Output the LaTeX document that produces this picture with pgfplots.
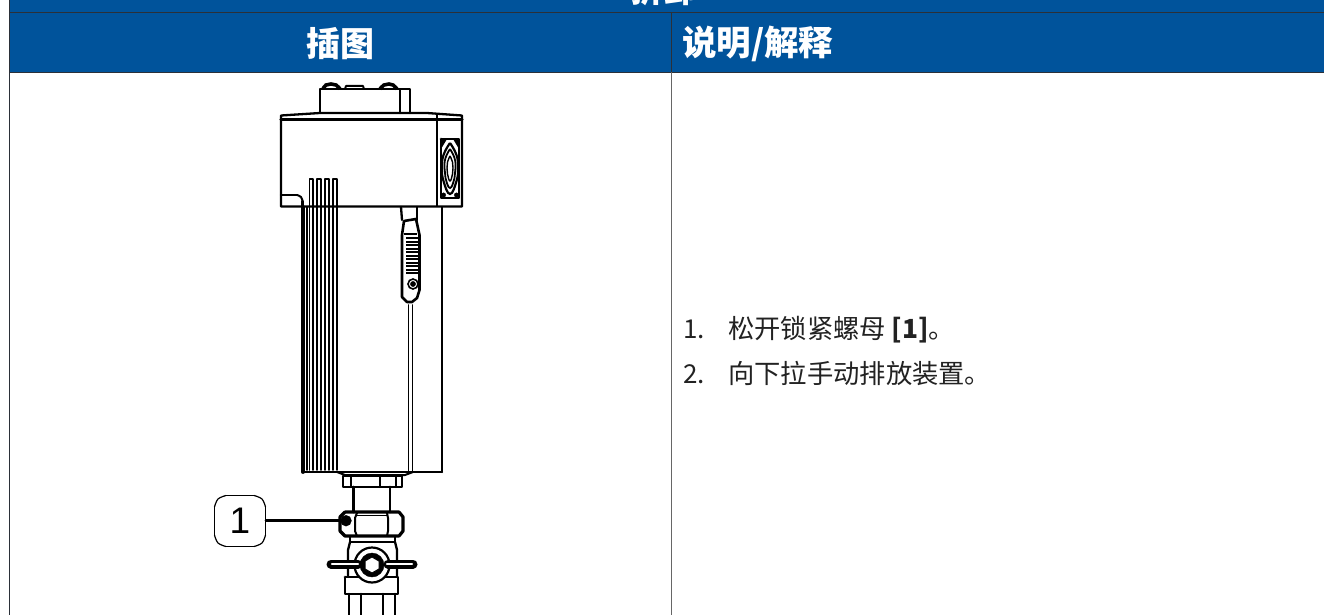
\documentclass[border=0pt]{standalone}
\usepackage{pgfplots}
\pgfplotsset{compat=1.18}
\usepackage{fontspec}
\setmainfont{Noto Sans CJK SC}
\setsansfont{Liberation Sans}
\definecolor{hdr}{HTML}{00539B}
\definecolor{rule}{HTML}{2B3038}
\definecolor{txt}{HTML}{222222}
\newcommand\Ln[2][2.3pt]{\addplot[black,line width=#1,no marks,line join=round,line cap=round] coordinates {#2};}
\newcommand\Sm[2][2pt]{\addplot[black,line width=#1,no marks,smooth,tension=0.8] coordinates {#2};}
\begin{document}
\begin{tikzpicture}
\begin{axis}[
  scale only axis,width=1324pt,height=615pt,
  xmin=0,xmax=1324,ymin=0,ymax=615,y dir=reverse,
  axis lines=none,clip=true,clip marker paths=true,
  clip mode=global]
% page and header
\addplot[fill=white,draw=none,no marks] coordinates {(0,0)(1324,0)(1324,615)(0,615)} --cycle;
\addplot[fill=hdr,draw=none,no marks] coordinates {(9,0)(1324,0)(1324,72)(9,72)} --cycle;
\addplot[rule,line width=1.5pt,no marks] coordinates {(9,12.3)(1324,12.3)};
\addplot[rule,line width=1.5pt,no marks] coordinates {(9,72.3)(1324,72.3)};
\addplot[rule,line width=1.5pt,no marks] coordinates {(9.3,0)(9.3,615)};
\addplot[rule,line width=1.5pt,no marks] coordinates {(671.3,12)(671.3,72)};
\addplot[gray!80!black,line width=1.3pt,no marks] coordinates {(671.3,72)(671.3,615)};
% head
\Ln{(320,113)(281,115.5)(281,206.5)(462,206.5)(462,115.5)(427,113)(320,113)}
\Ln[3.2pt]{(281,119.5)(462,119.5)}
\Ln{(320,113)(320,89)(400,89)(400,113)}
\Ln{(400,89)(410,89)(410,113)}
\Ln{(437,115)(437,206)}
\Sm[3.6pt]{(323,89)(326,85)(331,84)(336,85)(340,89)}
\Ln[2pt]{(345,89)(346,86)(363,86)(364,89)}
\Sm[3.6pt]{(380,89)(384,85)(389,84)(393,85)(397,89)}
% fan
\Ln[2.8pt]{(441,139)(459,139)(459,198)(441,198)(441,139)}
\addplot[fill=black,draw=none,no marks] coordinates {(441,139)(447,139)(441,149)} --cycle;
\addplot[fill=black,draw=none,no marks] coordinates {(459,139)(453,139)(459,149)} --cycle;
\Sm[2.2pt]{(450,143)(456.5,155)(458,168)(456.5,181)(450,194)(443.5,181)(442,168)(443.5,155)(450,143)}
\Sm[1.8pt]{(450,149)(454.5,158)(455.5,168)(454.5,178)(450,188)(445.5,178)(444.5,168)(445.5,158)(450,149)}
\Sm[1.4pt]{(450,156)(452.5,162)(453,168)(452.5,174)(450,181)(447.5,174)(447,168)(447.5,162)(450,156)}
\addplot[black,only marks,mark=*,mark size=2.2pt] coordinates {(443.5,195)(456.5,195)};
% notch and fins
\Ln{(281,195)(297,195)}
\Sm{(297,195)(301,197)(302.5,201)}
\Ln{(302.5,201)(302.5,206)}
\Ln[1.8pt]{(309.5,206)(309.5,179)(313.3,179)(313.3,206)}
\Ln[1.8pt]{(317.3,206)(317.3,179)(321.3,179)(321.3,206)}
\Ln[1.8pt]{(325.3,206)(325.3,179)(329.3,179)(329.3,206)}
\Ln[1.8pt]{(333.3,206)(333.3,179)(337.3,179)(337.3,206)}
% body
\Ln[3.8pt]{(303,207)(303,472)}
\Ln[2pt]{(303,472)(442,472)}
\Ln{(442,207)(442,472)}
\Ln[1.7pt]{(307,207)(307,470)}
\Ln[1.7pt]{(309.5,207)(309.5,470)}
\Ln[1.7pt]{(313.3,207)(313.3,470)}
\Ln[1.7pt]{(317.3,207)(317.3,470)}
\Ln[1.7pt]{(321.3,207)(321.3,470)}
\Ln[1.7pt]{(325.3,207)(325.3,470)}
\Ln[1.7pt]{(329.3,207)(329.3,470)}
\Ln[1.7pt]{(333.3,207)(333.3,470)}
\Ln[1.7pt]{(337.3,207)(337.3,470)}
\Ln[1.6pt]{(408.5,305)(408.5,472)}
\Ln[1.6pt]{(412.5,305)(412.5,472)}
\Ln[2pt]{(337,472)(345,475)(405,475)(413,472)}
% latch
\Ln{(401,207)(402,220)}
\Ln{(417,207)(417,220)}
\Ln[2.6pt]{(404,221)(416,219)(419.5,235)(419.5,290)(417,298)(412,302)(407,302)(402,297)(402,235)(404,221)}
\addplot[black,line width=1.6pt,no marks] coordinates {(404,234)(417,234)};
\addplot[black,line width=2.4pt,no marks] coordinates {(406,238)(419,238)};
\addplot[black,line width=2pt,no marks] coordinates {(406,241.5)(419,241.5)};
\addplot[black,line width=2pt,no marks] coordinates {(406,245)(419,245)};
\addplot[black,line width=2pt,no marks] coordinates {(406,248.5)(419,248.5)};
\addplot[black,line width=2pt,no marks] coordinates {(406,252)(419,252)};
\addplot[black,line width=2pt,no marks] coordinates {(406,255.5)(419,255.5)};
\addplot[black,line width=2pt,no marks] coordinates {(406,259)(419,259)};
\addplot[black,line width=2pt,no marks] coordinates {(406,262.5)(419,262.5)};
\addplot[black,line width=2pt,no marks] coordinates {(406,266)(419,266)};
\addplot[black,line width=2pt,no marks] coordinates {(406,269.5)(419,269.5)};
\addplot[black,line width=2pt,no marks] coordinates {(406,273)(419,273)};
\addplot[black,only marks,mark=o,mark size=5pt,line width=1.6pt] coordinates {(413,284)};
\addplot[black,only marks,mark=*,mark size=2.6pt] coordinates {(413,284)};
% collar and neck
\Ln{(343,476)(343,487)(402,487)(402,476)(343,476)}
\Ln{(351,476)(351,487)}
\Ln{(380,476)(380,487)}
\Ln{(396,476)(396,487)}
\Ln[2.8pt]{(353.5,487)(353.5,512)}
\Ln[2.8pt]{(390,487)(390,512)}
% nut
\Ln[3.2pt]{(345,512)(399,512)(403,517)(403,531)(399,536)(345,536)(340,531)(340,517)(345,512)}
\Ln[2pt]{(357,513)(355,518)(355,531)(357,536)}
\Ln[2pt]{(387,513)(388,518)(388,531)(387,536)}
\Ln[1.6pt]{(357,515.5)(387,515.5)}
% lower valve
\Ln{(350,537)(350,542)(395,542)(395,537)}
\Ln{(350,542)(348,550)(348,577)}
\Ln{(395,542)(397,550)(397,577)}
\Ln[2.8pt]{(345,577)(398,577)(398,594)(345,594)(345,577)}
\Ln[2.6pt]{(349,594)(349,615)}
\Ln[2.6pt]{(361,594)(361,615)}
\Ln[2.6pt]{(383,594)(383,615)}
\Ln[2.6pt]{(395,594)(395,615)}
\addplot[black,only marks,mark=*,mark options={fill=white,draw=black,line width=2.2pt},mark size=17.5pt] coordinates {(372,565)};
\addplot[black,line width=9pt,no marks,line cap=round] coordinates {(331,564)(358,564)};
\addplot[black,line width=9pt,no marks,line cap=round] coordinates {(388,564)(413,564)};
\addplot[white,line width=2.4pt,no marks,line cap=round] coordinates {(332,564)(358,564)};
\addplot[white,line width=2.4pt,no marks,line cap=round] coordinates {(387,564)(412,564)};
\addplot[black,only marks,mark=*,mark size=12pt] coordinates {(372,565)};
\addplot[fill=white,draw=black,line width=1pt,no marks] coordinates {(372,557)(379,561)(379,569)(372,573)(365,569)(365,561)} --cycle;
% callout
\Ln[2.6pt]{(266,520.5)(342,520.5)}
\addplot[black,only marks,mark=*,mark size=5.4pt] coordinates {(346,520.7)};
\addplot[black,line width=1.2pt,no marks] coordinates {(226,495.5)(254,495.5)};
\addplot[black,line width=1.2pt,no marks,smooth,tension=0.6] coordinates {(254,495.5)(262,499)(265.5,507)};
\addplot[black,line width=1.2pt,no marks] coordinates {(265.5,507)(265.5,535)};
\addplot[black,line width=1.2pt,no marks,smooth,tension=0.6] coordinates {(265.5,535)(262,543)(254,546.5)};
\addplot[black,line width=1.2pt,no marks] coordinates {(254,546.5)(226,546.5)};
\addplot[black,line width=1.2pt,no marks,smooth,tension=0.6] coordinates {(226,546.5)(218,543)(214.5,535)};
\addplot[black,line width=1.2pt,no marks] coordinates {(214.5,535)(214.5,507)};
\addplot[black,line width=1.2pt,no marks,smooth,tension=0.6] coordinates {(214.5,507)(218,499)(226,495.5)};
% texts
\node[anchor=center,text=black,inner sep=0pt] at (axis cs:240,520.5) {\fontsize{37}{37}\sffamily 1};
\node[anchor=center,text=white,inner sep=0pt] at (axis cs:340,44) {\fontsize{34}{34}\bfseries 插图};
\node[anchor=base west,text=white,inner sep=0pt] at (axis cs:682,56) {\fontsize{34.5}{34.5}\bfseries 说明/解释};
\node[anchor=base,text=white,inner sep=0pt] at (axis cs:664,3) {\fontsize{34}{34}\bfseries 拆卸};
\node[anchor=base west,text=txt,inner sep=0pt] at (axis cs:683,338) {\fontsize{26}{26}\selectfont 1.};
\node[anchor=base west,text=txt,inner sep=0pt] at (axis cs:728,338) {\fontsize{26.3}{26}\selectfont 松开锁紧螺母 \textbf{[1]}。};
\node[anchor=base west,text=txt,inner sep=0pt] at (axis cs:683,383) {\fontsize{26}{26}\selectfont 2.};
\node[anchor=base west,text=txt,inner sep=0pt] at (axis cs:728,383) {\fontsize{26.3}{26}\selectfont 向下拉手动排放装置。};
\end{axis}
\end{tikzpicture}
\end{document}
